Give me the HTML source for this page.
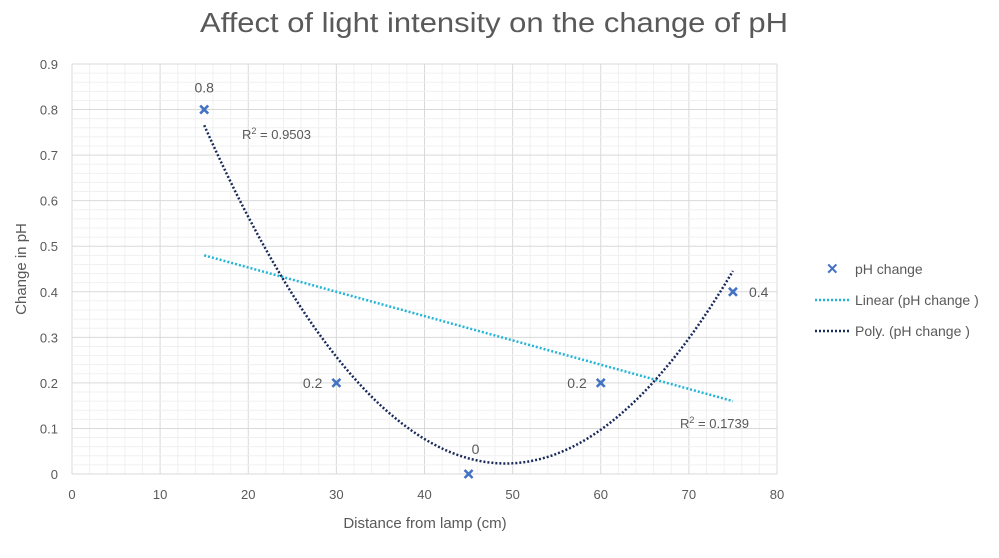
<!DOCTYPE html>
<html><head><meta charset="utf-8"><style>
body{margin:0;background:#fff;font-family:"Liberation Sans",sans-serif}
text{font-family:"Liberation Sans",sans-serif;fill:#595959}
</style></head><body>
<svg id="c" width="999" height="553" xmlns="http://www.w3.org/2000/svg">
<text x="494" y="32" text-anchor="middle" font-size="28" textLength="588" lengthAdjust="spacingAndGlyphs">Affect of light intensity on the change of pH</text>
<text x="425" y="528" text-anchor="middle" font-size="15">Distance from lamp (cm)</text>
<text transform="translate(26,269) rotate(-90)" text-anchor="middle" font-size="15">Change in pH</text>
<g id="grid"></g><g id="ticks"></g><g id="trends"></g><g id="marks"></g>
<g>
<text x="826" y="274" font-size="15" fill="#4472c4" style="fill:#4472c4;font-weight:bold">✕</text>
<text x="855" y="274" font-size="14">pH change</text>
<line x1="815" y1="300" x2="850" y2="300" stroke="#21b5d8" stroke-width="2.5" stroke-dasharray="2 2"/>
<text x="855" y="305" font-size="14">Linear (pH change )</text>
<line x1="815" y1="331" x2="850" y2="331" stroke="#1a2a5a" stroke-width="2.5" stroke-dasharray="2 2"/>
<text x="855" y="336" font-size="14">Poly. (pH change )</text>
</g>
</svg>
<script>
const categories=[15,30,45,60,75];
const values=[0.8,0.2,0,0.2,0.4];
const xTicks=[0,10,20,30,40,50,60,70,80];
const yTicks=[0,0.1,0.2,0.3,0.4,0.5,0.6,0.7,0.8,0.9];
const labels=["0.8","0.2","0","0.2","0.4"];
const NS="http://www.w3.org/2000/svg";
const X=v=>72+v*(777-72)/80, Y=v=>474-v*(474-64)/0.9;
function el(t,a,p){const e=document.createElementNS(NS,t);for(const k in a)e.setAttribute(k,a[k]);document.getElementById(p).appendChild(e);return e;}
for(let i=0;i<=40;i++){const v=i*2;const e=el('line',{x1:X(v),x2:X(v),y1:Y(0),y2:Y(0.9),stroke:i%5?'#f0f0f0':'#d9d9d9','stroke-width':1},'grid');
}
for(let i=0;i<=45;i++){const v=i*0.02;const e=el('line',{x1:X(0),x2:X(80),y1:Y(v),y2:Y(v),stroke:i%5?'#f0f0f0':'#d9d9d9','stroke-width':1},'grid');
}
xTicks.forEach(v=>{const t=el('text',{x:X(v),y:499,'text-anchor':'middle','font-size':13},'ticks');t.textContent=v;
});
yTicks.forEach(v=>{const t=el('text',{x:58,y:Y(v)+5,'text-anchor':'end','font-size':13},'ticks');t.textContent=+v.toFixed(1);
});
const n=categories.length;
const S=k=>categories.reduce((s,x)=>s+Math.pow(x,k),0);
const SY=k=>categories.reduce((s,x,i)=>s+Math.pow(x,k)*values[i],0);
const mx=S(1)/n,my=SY(0)/n;
const b=(SY(1)-n*mx*my)/(S(2)-n*mx*mx),a=my-b*mx;
const l=el('line',{x1:X(15),y1:Y(a+b*15),x2:X(75),y2:Y(a+b*75),stroke:'#21b5d8','stroke-width':2.5,'stroke-dasharray':'2 2'},'trends');

function solve(M,r){M=M.map((row,i)=>[...row,r[i]]);for(let i=0;i<3;i++){for(let j=i+1;j<3;j++){const f=M[j][i]/M[i][i];for(let k=i;k<4;k++)M[j][k]-=f*M[i][k];}}
const x=[0,0,0];for(let i=2;i>=0;i--){let s=M[i][3];for(let k=i+1;k<3;k++)s-=M[i][k]*x[k];x[i]=s/M[i][i];}return x;}
const c=solve([[n,S(1),S(2)],[S(1),S(2),S(3)],[S(2),S(3),S(4)]],[SY(0),SY(1),SY(2)]);
let d='';for(let x=15;x<=75.01;x+=0.5){d+=(d?'L':'M')+X(x).toFixed(1)+','+Y(c[0]+c[1]*x+c[2]*x*x).toFixed(1);}
const p=el('path',{d:d,fill:'none',stroke:'#1a2a5a','stroke-width':2.5,'stroke-dasharray':'2 2'},'trends');

const r1=el('text',{x:242,y:139,'font-size':13},'trends');r1.innerHTML='R<tspan font-size="9" dy="-5">2</tspan><tspan dy="5"> = 0.9503</tspan>';

const r2=el('text',{x:680,y:428,'font-size':13},'trends');r2.innerHTML='R<tspan font-size="9" dy="-5">2</tspan><tspan dy="5"> = 0.1739</tspan>';

const off=[[0,-17,'middle'],[-14,5,'end'],[7,-20,'middle'],[-14,5,'end'],[16,5,'start']];
categories.forEach((x,i)=>{const cx=X(x),cy=Y(values[i]);
const m=el('path',{d:`M${cx-4},${cy-4}L${cx+4},${cy+4}M${cx+4},${cy-4}L${cx-4},${cy+4}`,stroke:'#4472c4','stroke-width':2.6},'marks');

const t=el('text',{x:cx+off[i][0],y:cy+off[i][1],'text-anchor':off[i][2],'font-size':14},'marks');t.textContent=labels[i];
});
</script>
</body></html>
